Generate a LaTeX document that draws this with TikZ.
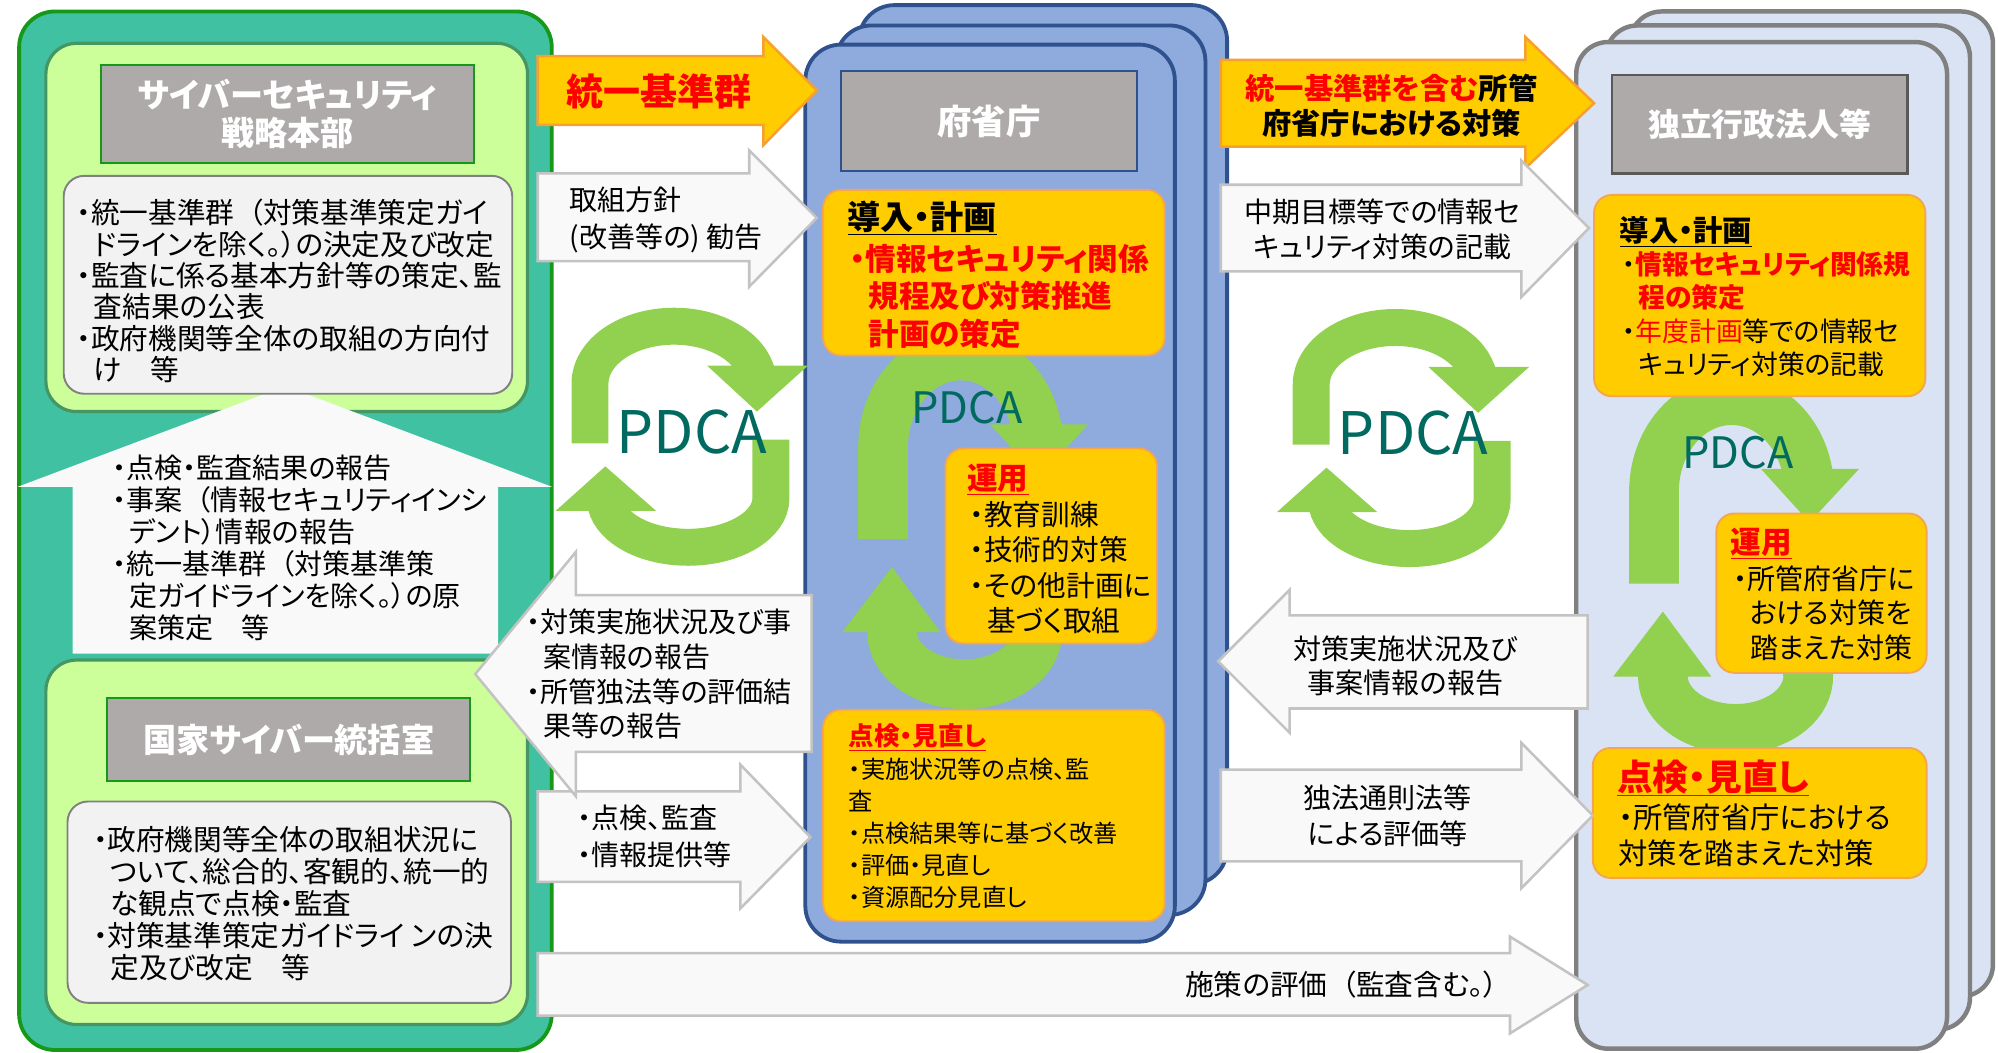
\documentclass[tikz,border=0pt]{standalone}
\usepackage{fontspec}
\setmainfont{Noto Sans CJK JP}[RawFeature=+palt]
\usepackage{tikz}

\definecolor{panelgreen}{RGB}{64,193,161}
\definecolor{panelline}{RGB}{22,152,24}
\definecolor{limefill}{RGB}{204,255,153}
\definecolor{limeline}{RGB}{70,150,100}
\definecolor{titlegray}{RGB}{174,170,170}
\definecolor{notegray}{RGB}{242,242,242}
\definecolor{noteline}{RGB}{128,128,128}
\definecolor{cardblue}{RGB}{143,170,220}
\definecolor{cardline}{RGB}{47,82,143}
\definecolor{cardpale}{RGB}{218,227,243}
\definecolor{paleline}{RGB}{128,128,128}
\definecolor{stepgold}{RGB}{255,204,0}
\definecolor{stepline}{RGB}{245,165,80}
\definecolor{goldline}{RGB}{247,160,50}
\definecolor{arrowfill}{RGB}{249,249,249}
\definecolor{arrowline}{RGB}{195,195,195}
\definecolor{cyclegreen}{RGB}{146,208,80}
\definecolor{cycletext}{RGB}{0,106,96}

\newcommand{\fs}[2]{\fontsize{#1}{#2}\selectfont}
\newcommand{\ind}{\hspace*{0.6em}}
\newcommand{\lpar}{\hspace*{0.5em}（}

\tikzset{
  panel/.style={fill=panelgreen,draw=panelline,line width=3,rounded corners=28},
  limebox/.style={fill=limefill,draw=limeline,line width=2.5,rounded corners=24},
  titlebox/.style={fill=titlegray,line width=1.5,text=white,align=center},
  notebox/.style={fill=notegray,draw=noteline,line width=1.5,rounded corners=16},
  notetext/.style={anchor=west,align=left},
  bluecard/.style={fill=cardblue,draw=cardline,line width=3,rounded corners=28},
  palecard/.style={fill=cardpale,draw=paleline,line width=3.5,rounded corners=25},
  stepbox/.style={fill=stepgold,draw=stepline,line width=1.5,rounded corners=14},
  whitearrow/.style={fill=arrowfill,draw=arrowline,line width=2},
  goldarrow/.style={fill=stepgold,draw=goldline,line width=2},
  band/.style={draw=cyclegreen,line width=#1},
  cyclelabel/.style={text=cycletext},
  bigcycle/.pic={
    \draw[band=29] (-77,3) -- (-77,-44) arc[start angle=180,end angle=352,x radius=66,y radius=45];
    \fill[cyclegreen] (15,-58) -- (94,-58) -- (54,-22) -- cycle;
    \draw[band=29] (65,0) -- (65,46) arc[start angle=0,end angle=172,x radius=65,y radius=38.5];
    \fill[cyclegreen] (-104,56) -- (-25,56) -- (-65,21) -- cycle;
    \node[cyclelabel,font=\fs{46}{46}] (-label) at (3,-6) {PDCA};
  },
  smallcycle/.pic={
    \draw[band=39] (-61,72) -- (-61,0) arc[start angle=180,end angle=352,x radius=61,y radius=72];
    \fill[cyclegreen] (23,-18) -- (100,-18) -- (61,24) -- cycle;
    \draw[band=39] (52.4,124.5) arc[start angle=-30,end angle=185,x radius=57,y radius=41];
    \fill[cyclegreen] (-93,145) -- (-16,145) -- (-54,94) -- cycle;
    \node[cyclelabel,font=\fs{34}{34}] (-label) at (5,-31) {PDCA};
  },
}

\begin{document}
\begin{tikzpicture}[x=1pt,y=-1pt,every node/.style={inner sep=0}]
\useasboundingbox (0,0) rectangle (1568,826);

% cyber security headquarters
\draw[panel] (15,9) rectangle (433,824);
\draw[limebox] (36,34) rectangle (414,323);
\draw[limebox] (36,518) rectangle (414,804);
\node[titlebox,draw=panelline,minimum width=293,minimum height=77,font=\bfseries\fs{26}{30}] (hq) at (225.5,89.5) {サイバーセキュリティ\\戦略本部};
\fill[arrowfill] (57,513) -- (57,382) -- (14,382) -- (224,303) -- (433,382) -- (391,382) -- (391,513) -- cycle;
\node[notetext,font=\fs{22}{25.2}] (reportup) at (88,430) {・点検・監査結果の報告\\・事案\lpar 情報セキュリティインシ\\\ind デント）情報の報告\\・統一基準群\lpar 対策基準策\\\ind 定ガイドラインを除く。）の原\\\ind 案策定　等};
\draw[notebox] (50,138) rectangle (402,309);
\node[notetext,font=\fs{22.5}{24.6}] (hqnote) at (60,228.5) {・統一基準群\lpar 対策基準策定ガイ\\\ind ドラインを除く。）の決定及び改定\\・監査に係る基本方針等の策定、監\\\ind 査結果の公表\\・政府機関等全体の取組の方向付\\\ind け　等};
\node[titlebox,draw=panelline,minimum width=285,minimum height=65,font=\bfseries\fs{26}{30}] (nisc) at (226.5,580.5) {国家サイバー統括室};
\draw[notebox] (53,629) rectangle (401,787);
\node[notetext,font=\fs{22.5}{25}] (niscnote) at (73,709) {・政府機関等全体の取組状況に\\\ind ついて、総合的、客観的、統一的\\\ind な観点で点検・監査\\・対策基準策定ガイドライ ンの決\\\ind 定及び改定　等};

% ministries
\draw[bluecard] (674,4) rectangle (963,694);
\draw[bluecard] (656,20) rectangle (946,718);
\draw[bluecard] (632,35) rectangle (922,739);
\node[titlebox,draw=cardline,minimum width=232,minimum height=78,font=\bfseries\fs{27}{30}] (ministry) at (776,95) {府省庁};
\pic (mincycle) at (754,351) {smallcycle};
\draw[stepbox] (646,149) rectangle (914,279);
\node[anchor=base west,font=\bfseries\fs{26}{30}] (minplan) at (665,180) {\underline{導入・計画}};
\node[notetext,text=red,font=\bfseries\fs{24}{29.5}] (minplannote) at (667,232.5) {・情報セキュリティ関係\\\ind 規程及び対策推進\\\ind 計画の策定};
\draw[stepbox] (742,352) rectangle (908,505);
\node[anchor=base west,text=red,font=\bfseries\fs{24}{28}] (minrun) at (759,384) {\underline{運用}};
\node[notetext,font=\fs{22.5}{27.7}] (minrunnote) at (761,445.5) {・教育訓練\\・技術的対策\\・その他計画に\\\ind 基づく取組};
\draw[stepbox] (646,557) rectangle (914,723);
\node[anchor=base west,text=red,font=\bfseries\fs{20}{24}] (mincheck) at (666,585) {\underline{点検・見直し}};
\node[notetext,font=\fs{19}{25}] (minchecknote) at (666,654) {・実施状況等の点検、監\\査\\・点検結果等に基づく改善\\・評価・見直し\\・資源配分見直し};

% independent administrative agencies
\draw[palecard] (1279,9) rectangle (1564,782);
\draw[palecard] (1260,20) rectangle (1546,808);
\draw[palecard] (1237,33) rectangle (1528,823);
\node[titlebox,draw=black!65,line width=2,minimum width=232,minimum height=77,font=\bfseries\fs{25}{30}] (agency) at (1381,97.5) {独立行政法人等};
\pic (agcycle) at (1359,386) {smallcycle};
\draw[stepbox] (1251,153) rectangle (1511,311);
\node[anchor=base west,font=\bfseries\fs{23}{27}] (agplan) at (1271,189.5) {\underline{導入・計画}};
\node[notetext,font=\fs{21}{26.3}] (agplannote) at (1273,246.5) {・\textcolor{red}{\bfseries 情報セキュリティ関係規}\\\ind\textcolor{red}{\bfseries 程の策定}\\・\textcolor{red}{年度計画}等での情報セ\\\ind キュリティ対策の記載};
\draw[stepbox] (1347,403) rectangle (1512,528);
\node[anchor=base west,text=red,font=\bfseries\fs{24}{28}] (agrun) at (1358,434) {\underline{運用}};
\node[notetext,font=\fs{22}{27}] (agrunnote) at (1360,481) {・所管府省庁に\\\ind おける対策を\\\ind 踏まえた対策};
\draw[stepbox] (1250,587) rectangle (1512,689);
\node[anchor=base west,text=red,font=\bfseries\fs{28}{30}] (agcheck) at (1269,620) {\underline{点検・見直し}};
\node[notetext,font=\fs{23}{29}] (agchecknote) at (1270,655.5) {・所管府省庁における\\対策を踏まえた対策};

% flows between headquarters and ministries
\draw[goldarrow] (422,44) -- (599,44) -- (599,29) -- (641,71) -- (599,114) -- (599,98) -- (422,98) -- cycle;
\node[text=red,font=\bfseries\fs{29}{30}] (basegroup) at (517,72) {統一基準群};
\draw[whitearrow] (422,136) -- (588,136) -- (588,118) -- (641,171) -- (588,225) -- (588,205) -- (422,205) -- cycle;
\node[notetext,font=\fs{22}{29}] (policy) at (447,172.5) {取組方針\\(改善等の) 勧告};
\draw[whitearrow] (422,621) -- (581,621) -- (581,600) -- (636,657) -- (581,713) -- (581,692) -- (422,692) -- cycle;
\node[notetext,font=\fs{22}{29}] (audit) at (453,656.5) {・点検、監査\\・情報提供等};
\draw[whitearrow] (422,748) -- (1185,748) -- (1185,735) -- (1246,773) -- (1185,811) -- (1185,797) -- (422,797) -- cycle;
\node[anchor=east,font=\fs{22.5}{26}] (evaluation) at (1176,773) {施策の評価\lpar 監査含む。）};
\draw[whitearrow] (373,529) -- (452,433) -- (452,467) -- (637,467) -- (637,590) -- (452,590) -- (452,625) -- cycle;
\node[notetext,font=\fs{22}{27.3}] (statusleft) at (413,529) {・対策実施状況及び事\\\ind 案情報の報告\\・所管独法等の評価結\\\ind 果等の報告};
\pic (leftcycle) at (540,345) {bigcycle};

% flows between ministries and agencies
\draw[goldarrow] (958,47) -- (1197,47) -- (1197,29) -- (1251,81) -- (1197,132) -- (1197,115) -- (958,115) -- cycle;
\node[align=center,font=\bfseries\fs{23}{28}] (agencygroup) at (1092,83) {\textcolor{red}{統一基準群を含む}所管\\府省庁における対策};
\draw[whitearrow] (958,145) -- (1194,145) -- (1194,126) -- (1247,179) -- (1194,233) -- (1194,213) -- (958,213) -- cycle;
\node[align=center,font=\fs{22}{28}] (midterm) at (1085,180) {中期目標等での情報セ\\キュリティ対策の記載};
\draw[whitearrow] (956,519) -- (1012,463) -- (1012,483) -- (1246,483) -- (1246,556) -- (1012,556) -- (1012,575) -- cycle;
\node[align=center,font=\fs{22}{27}] (statusright) at (1103,522.5) {対策実施状況及び\\事案情報の報告};
\draw[whitearrow] (958,604) -- (1194,604) -- (1194,583) -- (1250,640) -- (1194,697) -- (1194,676) -- (958,676) -- cycle;
\node[align=center,font=\fs{22}{28}] (rules) at (1089,640) {独法通則法等\\による評価等};
\pic (rightcycle) at (1106,346) {bigcycle};
\end{tikzpicture}
\end{document}
